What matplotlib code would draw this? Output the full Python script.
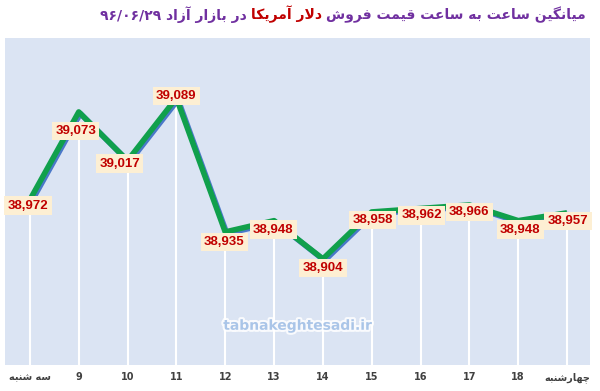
import re
import matplotlib
matplotlib.use("Agg")
import matplotlib.pyplot as plt
import matplotlib.patheffects as pe

# data
categories = ["سه شنبه", "9", "10", "11", "12", "13", "14", "15", "16", "17", "18", "چهارشنبه"]
prices = [38972, 39073, 39017, 39089, 38935, 38948, 38904, 38958, 38962, 38966, 38948, 38957]
title_parts = ["میانگین ساعت به ساعت قیمت فروش", "دلار آمریکا", "در بازار آزاد ۹۶/۰۶/۲۹"]
watermark = "tabnakeghtesadi.ir"

# label nudges in pixels (dx, dy)
label_dx = [-2, -3, -8, 0, -1, -1, 0, 1, 1, 0, 2, 1]
label_dy = [-6, -19, -3, 2, -10, -9, -9, -8, -7, -7, -9, -8]

# minimal arabic/persian shaping (matplotlib 3.10 has no text shaping)
FORMS = {
    "\u0627": ("\uFE8D", "\uFE8E", None, None),
    "\u0622": ("\uFE81", "\uFE82", None, None),
    "\u0628": ("\uFE8F", "\uFE90", "\uFE91", "\uFE92"),
    "\u062A": ("\uFE95", "\uFE96", "\uFE97", "\uFE98"),
    "\u062F": ("\uFEA9", "\uFEAA", None, None),
    "\u0631": ("\uFEAD", "\uFEAE", None, None),
    "\u0632": ("\uFEAF", "\uFEB0", None, None),
    "\u0633": ("\uFEB1", "\uFEB2", "\uFEB3", "\uFEB4"),
    "\u0634": ("\uFEB5", "\uFEB6", "\uFEB7", "\uFEB8"),
    "\u0639": ("\uFEC9", "\uFECA", "\uFECB", "\uFECC"),
    "\u0641": ("\uFED1", "\uFED2", "\uFED3", "\uFED4"),
    "\u0642": ("\uFED5", "\uFED6", "\uFED7", "\uFED8"),
    "\u0644": ("\uFEDD", "\uFEDE", "\uFEDF", "\uFEE0"),
    "\u0645": ("\uFEE1", "\uFEE2", "\uFEE3", "\uFEE4"),
    "\u0646": ("\uFEE5", "\uFEE6", "\uFEE7", "\uFEE8"),
    "\u0647": ("\uFEE9", "\uFEEA", "\uFEEB", "\uFEEC"),
    "\u0648": ("\uFEED", "\uFEEE", None, None),
    "\u06CC": ("\uFBFC", "\uFBFD", "\uFBFE", "\uFBFF"),
    "\u06A9": ("\uFB8E", "\uFB8F", "\uFB90", "\uFB91"),
    "\u06AF": ("\uFB92", "\uFB93", "\uFB94", "\uFB95"),
    "\u0686": ("\uFB7A", "\uFB7B", "\uFB7C", "\uFB7D"),
}
LAM_ALEF = {"\u0627": ("\uFEFB", "\uFEFC"), "\u0622": ("\uFEF5", "\uFEF6")}
LTR = r"[0-9\u06F0-\u06F9/.,:A-Za-z]+"


def shape(s):
    out = []
    i = 0
    while i < len(s):
        c = s[i]
        if c not in FORMS:
            out.append(c)
            i += 1
            continue
        prev = s[i - 1] if i > 0 else ""
        jp = prev in FORMS and FORMS[prev][2] is not None
        if c == "\u0644" and i + 1 < len(s) and s[i + 1] in LAM_ALEF:
            out.append(LAM_ALEF[s[i + 1]][1 if jp else 0])
            i += 2
            continue
        nxt = s[i + 1] if i + 1 < len(s) else ""
        jn = FORMS[c][2] is not None and nxt in FORMS
        iso, fin, ini, med = FORMS[c]
        out.append(med if jp and jn else fin if jp else ini if jn else iso)
        i += 1
    return "".join(out)


def rtl(s):
    runs = re.findall(LTR + "|[^0-9\u06F0-\u06F9/.,:A-Za-z]+", shape(s))
    return "".join(r if re.fullmatch(LTR, r) else r[::-1] for r in reversed(runs))


fig = plt.figure(figsize=(6, 3.91), dpi=100)
ax = fig.add_axes([5 / 600, 26 / 391, 585 / 600, 327 / 391])
ax.set_facecolor("#dbe4f3")
for s in ax.spines.values():
    s.set_visible(False)

x = list(range(len(prices)))
ax.set_xlim(-0.51, 11.47)
ax.set_ylim(38782, 39158)

ax.vlines(x, 38782, prices, color="white", lw=1.5, zorder=1)
ax.plot(x, prices, color="#10a04c", lw=4, solid_capstyle="butt", zorder=2,
        path_effects=[pe.SimpleLineShadow(offset=(1.2, -1.2), shadow_color="#4a78c8", alpha=1),
                      pe.Normal()])

for xi, v, dx, dy in zip(x, prices, label_dx, label_dy):
    ax.annotate(f"{v:,}", (xi, v), xytext=(dx, dy), textcoords="offset pixels",
                ha="center", va="center", color="#c00000", fontsize=9.5, fontweight="bold",
                family="Liberation Sans", zorder=5,
                bbox=dict(boxstyle="square,pad=0.25", fc="#fdefd3", ec="none"))

ax.set_yticks([])
ax.set_xticks(x)
ax.set_xticklabels([rtl(c) for c in categories], fontsize=7, fontweight="bold",
                   color="#404040", family="DejaVu Sans")
ax.tick_params(axis="x", length=0, pad=5)

ax.text(0.50, 0.12, watermark, transform=ax.transAxes, ha="center", va="center",
        fontsize=10, fontweight="bold", color="#aac5e8", zorder=3,
        path_effects=[pe.withStroke(linewidth=3, foreground="white", alpha=0.85)])

t1 = fig.text(586 / 600, 1 - 23 / 391, rtl(title_parts[0]), ha="right", va="bottom",
              fontsize=10, fontweight="bold", color="#7030a0", family="DejaVu Sans")
t2 = fig.text(0, 0, rtl(title_parts[1]), ha="right", va="bottom", fontsize=10,
              fontweight="bold", color="#c00000", family="DejaVu Sans")
t3 = fig.text(0, 0, rtl(title_parts[2]), ha="right", va="bottom", fontsize=10,
              fontweight="bold", color="#7030a0", family="DejaVu Sans")
fig.canvas.draw()
r = fig.canvas.get_renderer()
b1 = t1.get_window_extent(r)
t2.set_position(((b1.x0 - 4) / 600, b1.y0 / 391))
b2 = t2.get_window_extent(r)
t3.set_position(((b2.x0 - 4) / 600, b2.y0 / 391))

fig.savefig("out.png", dpi=100, facecolor="white")
